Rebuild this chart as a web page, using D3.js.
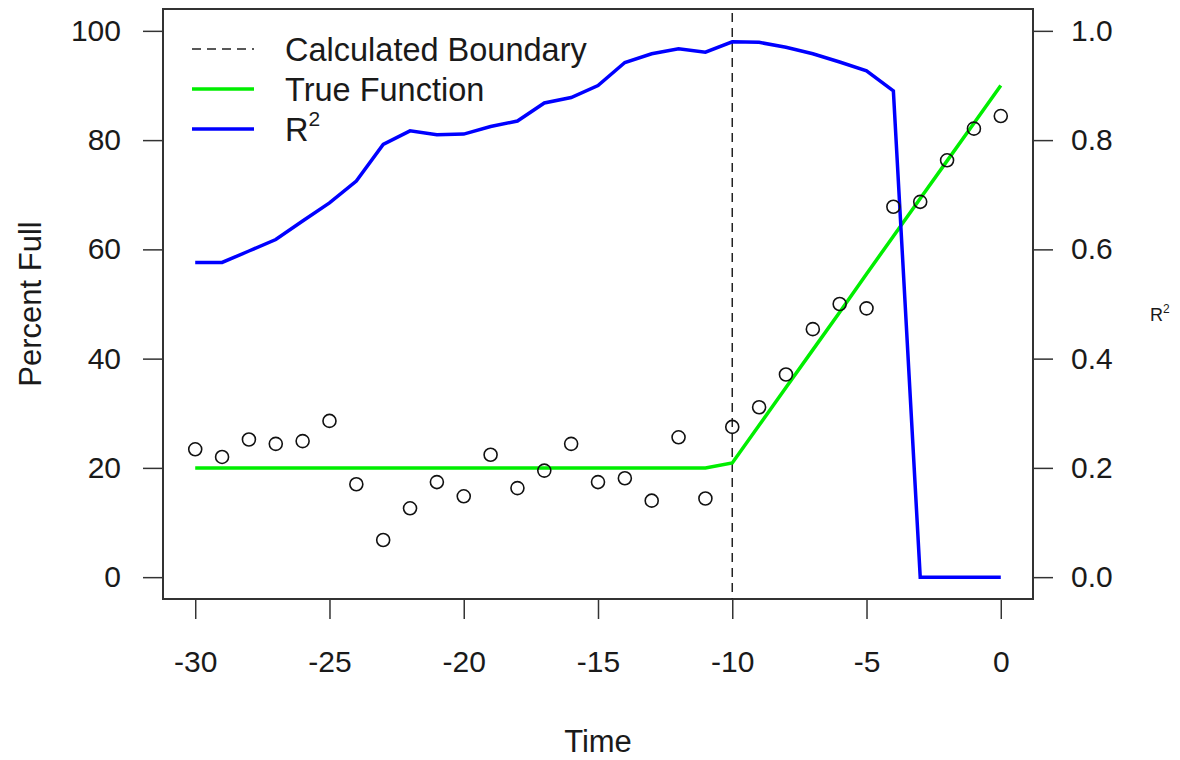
<!DOCTYPE html>
<html lang="en">
  <head>
    <meta charset="UTF-8" />
    <title>Percent Full vs Time</title>
    <script src="https://d3js.org/d3.v7.min.js"></script>
    <style>
      body {
        margin: 0;
        background: #fff;
      }
      text {
        font-family: "Liberation Sans", Arial, sans-serif;
        fill: #1a1a1a;
      }
      .tick line {
        stroke: #333;
        stroke-width: 1.5;
      }
      .tick text {
        font-size: 30px;
      }
    </style>
  </head>
  <body>
    <svg width="1180" height="760"></svg>
    <script>
      // data
      var times = [-30, -29, -28, -27, -26, -25, -24, -23, -22, -21, -20, -19, -18, -17, -16, -15,
        -14, -13, -12, -11, -10, -9, -8, -7, -6, -5, -4, -3, -2, -1, 0];
      var observed = [23.4, 22.0, 25.2, 24.4, 24.9, 28.6, 17.0, 6.8, 12.6, 17.4, 14.8, 22.4, 16.3,
        19.5, 24.4, 17.4, 18.1, 14.0, 25.6, 14.4, 27.5, 31.1, 37.1, 45.4, 50.0, 49.2, 67.8, 68.7,
        76.3, 82.1, 84.4];
      var trueFn = [20, 20, 20, 20, 20, 20, 20, 20, 20, 20, 20, 20, 20, 20, 20, 20, 20, 20, 20, 20,
        20.9, 27.8, 34.7, 41.6, 48.5, 55.5, 62.4, 69.3, 76.2, 83.1, 90];
      var rSquared = [0.576, 0.576, 0.597, 0.618, 0.652, 0.685, 0.725, 0.792, 0.817, 0.81, 0.811,
        0.825, 0.835, 0.868, 0.878, 0.9, 0.942, 0.958, 0.967, 0.961, 0.98, 0.979, 0.97, 0.958,
        0.943, 0.927, 0.89, 0, 0, 0, 0];
      var boundary = -10;
      var xTicks = [-30, -25, -20, -15, -10, -5, 0];
      var yTicks = [0, 20, 40, 60, 80, 100];
      var rTicks = [0, 0.2, 0.4, 0.6, 0.8, 1.0];

      var svg = d3.select("svg");
      var box = { left: 163, right: 1033, top: 9, bottom: 599 };

      // R style 4% padding on both axes
      var x = d3.scaleLinear().domain([-31.2, 1.2]).range([box.left, box.right]);
      var y = d3.scaleLinear().domain([-4, 104]).range([box.bottom, box.top]);
      var yR = d3.scaleLinear().domain([-0.04, 1.04]).range([box.bottom, box.top]);

      // axes (plain hyphen for negatives, like R)
      var xAxis = svg.append("g")
        .attr("transform", "translate(0," + box.bottom + ")")
        .call(d3.axisBottom(x).tickValues(xTicks).tickSize(20).tickPadding(32).tickFormat(function (d) { return String(d); }));
      var yAxis = svg.append("g")
        .attr("transform", "translate(" + box.left + ",0)")
        .call(d3.axisLeft(y).tickValues(yTicks).tickSize(20).tickPadding(22).tickFormat(function (d) { return String(d); }));
      var rAxis = svg.append("g")
        .attr("transform", "translate(" + box.right + ",0)")
        .call(d3.axisRight(yR).tickValues(rTicks).tickSize(20).tickPadding(18).tickFormat(d3.format(".1f")));
      svg.selectAll(".domain").remove();
      svg.selectAll(".tick text").attr("fill", "#1a1a1a").style("font-family", "Liberation Sans, Arial, sans-serif");
      xAxis.selectAll(".tick text").attr("dy", "0.71em");

      // plot frame
      svg.append("rect")
        .attr("x", box.left)
        .attr("y", box.top)
        .attr("width", box.right - box.left)
        .attr("height", box.bottom - box.top)
        .attr("fill", "none")
        .attr("stroke", "#333")
        .attr("stroke-width", 2);

      // axis titles
      svg.append("text")
        .attr("x", (box.left + box.right) / 2)
        .attr("y", 752)
        .attr("text-anchor", "middle")
        .style("font-size", "31px")
        .text("Time");
      svg.append("text")
        .attr("transform", "translate(41," + (box.top + box.bottom) / 2 + ") rotate(-90)")
        .attr("text-anchor", "middle")
        .style("font-size", "31px")
        .text("Percent Full");
      var rLab = svg.append("text")
        .attr("x", 1150)
        .attr("y", 321)
        .style("font-size", "18px");
      rLab.append("tspan").text("R");
      rLab.append("tspan").attr("dy", -8).style("font-size", "12px").text("2");

      // vertical boundary
      svg.append("line")
        .attr("x1", x(boundary))
        .attr("x2", x(boundary))
        .attr("y1", box.top + 4)
        .attr("y2", box.bottom)
        .attr("stroke", "#222")
        .attr("stroke-width", 1.5)
        .attr("stroke-dasharray", "9,6");

      var rows = times.map(function (t, i) {
        return { t: t, obs: observed[i], fn: trueFn[i], r2: rSquared[i] };
      });

      // true function
      svg.append("path")
        .datum(rows)
        .attr("fill", "none")
        .attr("stroke", "#00ee00")
        .attr("stroke-width", 3.5)
        .attr("d", d3.line().x(function (d) { return x(d.t); }).y(function (d) { return y(d.fn); }));

      // R squared
      svg.append("path")
        .datum(rows)
        .attr("fill", "none")
        .attr("stroke", "#0000ff")
        .attr("stroke-width", 3.5)
        .attr("d", d3.line().x(function (d) { return x(d.t); }).y(function (d) { return yR(d.r2); }));

      // observed points
      svg.append("g")
        .selectAll("circle")
        .data(rows)
        .enter()
        .append("circle")
        .attr("cx", function (d) { return x(d.t); })
        .attr("cy", function (d) { return y(d.obs); })
        .attr("r", 6.5)
        .attr("fill", "none")
        .attr("stroke", "#111")
        .attr("stroke-width", 1.6);

      // legend
      var legend = [
        { label: "Calculated Boundary", color: "#222", dash: "9,6", width: 1.5 },
        { label: "True Function", color: "#00ee00", dash: null, width: 3.5 },
        { label: "R", sup: "2", color: "#0000ff", dash: null, width: 3.5 }
      ];
      var lg = svg.append("g").attr("transform", "translate(192,49)");
      var item = lg.selectAll("g")
        .data(legend)
        .enter()
        .append("g")
        .attr("transform", function (d, i) { return "translate(0," + i * 40 + ")"; });
      item.append("line")
        .attr("x1", 0)
        .attr("x2", 62)
        .attr("stroke", function (d) { return d.color; })
        .attr("stroke-width", function (d) { return d.width; })
        .attr("stroke-dasharray", function (d) { return d.dash; });
      var lt = item.append("text")
        .attr("x", 93)
        .attr("dy", "0.36em")
        .style("font-size", "32.5px")
        .text(function (d) { return d.label; });
      lt.filter(function (d) { return d.sup; })
        .append("tspan")
        .attr("dy", -15)
        .style("font-size", "21px")
        .text(function (d) { return d.sup; });
    </script>
  </body>
</html>
